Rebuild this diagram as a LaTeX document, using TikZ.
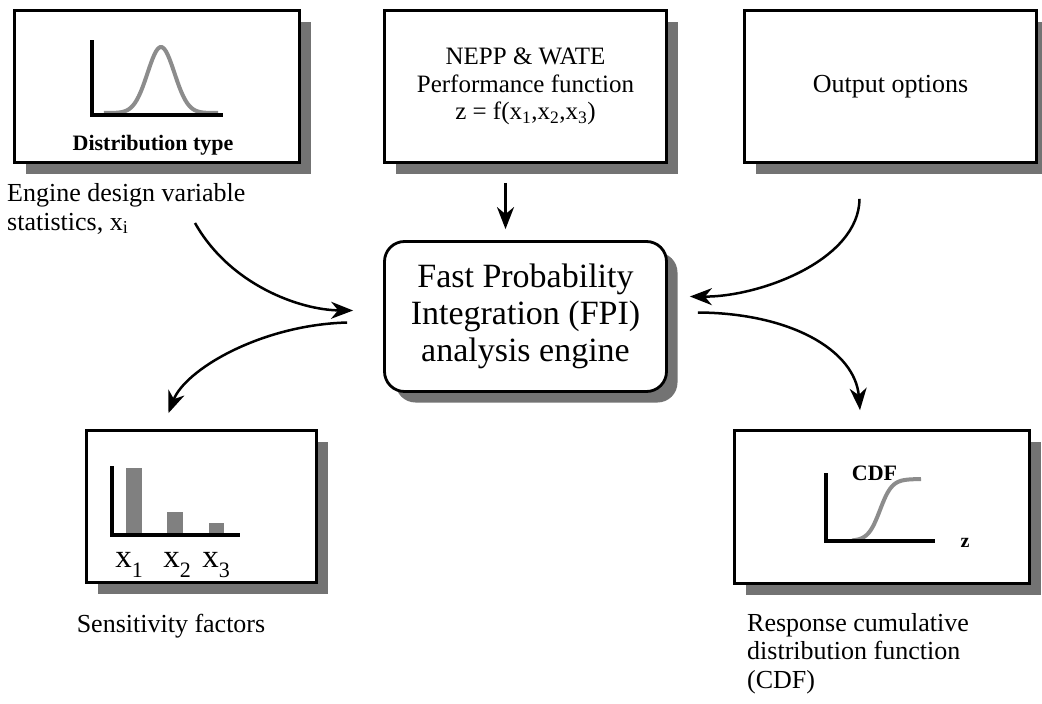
\documentclass[tikz,border=0pt]{standalone}
\usepackage{fontspec}
\setmainfont{Liberation Serif}
\usetikzlibrary{arrows.meta,positioning,shadows,calc}

\newcommand{\lowsub}[1]{\raisebox{-10pt}{\fontsize{22}{22}\selectfont #1}}

\begin{document}
\begin{tikzpicture}[x=1pt, y=-1pt,
  box/.style={draw, line width=2.8pt, fill=white, inner sep=0pt, align=center,
              font=\fontsize{26}{28}\selectfont,
              drop shadow={shadow xshift=11pt, shadow yshift=-11pt,
                           fill=black!55, opacity=1}},
  engine/.style={box, rounded corners=20pt, font=\fontsize{34}{37}\selectfont},
  lbl/.style={font=\fontsize{26}{28.5}\selectfont, inner sep=0pt, align=left},
  tag/.style={font=\bfseries\fontsize{22}{22}\selectfont, inner sep=0pt, anchor=base},
  xlbl/.style={font=\fontsize{33}{33}\selectfont, inner sep=0pt, anchor=base},
  axis/.style={line width=4pt},
  curve/.style={line width=4pt, black!45},
  bar/.style={fill=black!50},
  arr/.style={-{Stealth[length=22pt, width=17pt, inset=7pt]}, line width=2.5pt}]

  \useasboundingbox (0,0) rectangle (1042,704);

  % input and output boxes
  \node[box, minimum width=285pt, minimum height=152pt] (dist)   at (157,86.5)   {};
  \node[box, minimum width=282pt, minimum height=152pt,
        font=\fontsize{25}{27.5}\selectfont]             (perf)   at (525.5,86.5)
        {NEPP \& WATE\\Performance function\\z = f(x\textsubscript{1},x\textsubscript{2},x\textsubscript{3})};
  \node[box, minimum width=292pt, minimum height=152pt] (outopt) at (890.5,86.5) {Output options};
  \node[engine, minimum width=282pt, minimum height=150pt] (fpi) at (525.5,316.5)
        {Fast Probability\\Integration (FPI)\\analysis engine};
  \node[box, minimum width=230pt, minimum height=152pt] (sens)   at (201.5,506.5) {};
  \node[box, minimum width=295pt, minimum height=153pt] (cdfbox) at (882,507)     {};

  % distribution sketch
  \draw[curve] plot[domain=104:218, samples=60]
        (\x, {113-66*exp(-((\x-161)/19)*((\x-161)/19))});
  \draw[axis] (92,40) |- (223,115);
  \node[tag] (disttype) at (153,150) {Distribution type};

  % sensitivity bars
  \fill[bar] (126,468) rectangle (142,535);
  \fill[bar] (167,512) rectangle (183,535);
  \fill[bar] (209,523) rectangle (224,535);
  \draw[axis] (112,466) |- (240,535);
  \node[xlbl] (x1) at (129,567) {x\lowsub{1}};
  \node[xlbl] (x2) at (177,567) {x\lowsub{2}};
  \node[xlbl] (x3) at (216,567) {x\lowsub{3}};

  % cdf sketch
  \draw[curve] plot[domain=852:921, samples=50]
        (\x, {541-62/(1+exp(-(\x-880)/6))});
  \draw[axis] (826,473) |- (935,541);
  \node[tag] (cdftxt) at (874.5,480) {CDF};
  \node[tag, font=\bfseries\fontsize{20}{20}\selectfont] (zlbl) at (965,547) {z};

  % captions under the boxes (base = last line)
  \node[lbl, anchor=base west] (vars)    at (7,230)   {Engine design variable\\statistics, x\textsubscript{i}};
  \node[lbl, anchor=base]      (senslbl) at (171,632) {Sensitivity factors};
  \node[lbl, anchor=base west] (cdflbl)  at (747,688)
        {Response cumulative\\distribution function\\(CDF)};

  % connectors
  \coordinate (varsend) at (195,223);
  \draw[arr] ($(perf.south)+(-20,19)$) -- ($(fpi.north)+(-20,-11)$);
  \draw[arr] (varsend) .. controls (230,285) and (300,310) .. ($(fpi.west)+(-30,-6)$);
  \draw[arr] ($(fpi.west)+(-36,6)$) .. controls (260,325) and (185,370) .. ($(sens.north)+(-33,-16)$);
  \draw[arr] ($(outopt.south)+(-31,35)$) .. controls (859,260) and (760,297) .. ($(fpi.east)+(22,-20)$);
  \draw[arr] ($(fpi.east)+(30,-4)$) .. controls (790,313) and (855,350) .. ($(cdfbox.north)+(-22,-19)$);
\end{tikzpicture}
\end{document}
